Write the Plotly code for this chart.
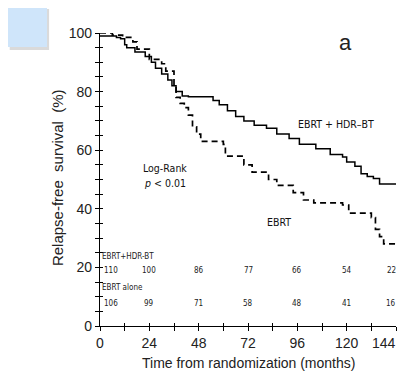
import plotly.graph_objects as go

# Kaplan-Meier curves (months, %)
combo_months = [0, 8, 10, 12, 13, 17, 22, 25, 27, 30, 33, 35, 37, 40, 43, 55, 58, 62, 66, 70, 75, 81, 86, 92, 97, 105, 112, 118, 120, 124, 127, 130, 133, 136, 144]
combo_surv = [99, 98.5, 98, 96, 95, 93.5, 92, 90, 88, 86, 84, 82, 80, 78.5, 78.2, 77, 75.5, 73.5, 71.5, 70, 68.5, 67.5, 65.5, 64, 62, 60.5, 58.5, 57.7, 56, 54.5, 52, 51, 50.3, 48.5, 48.5]

ebrt_months = [0, 6, 11, 16, 18, 24, 30, 32, 36, 37, 39, 41, 43, 45, 47, 49, 60, 61, 70, 74, 82, 86, 94, 99, 104, 118, 121, 132, 134, 136, 138, 144]
ebrt_surv = [100, 99.3, 98.5, 97, 94.5, 91, 89.5, 87, 82, 78, 76, 74.5, 72, 68, 65.5, 63, 62, 58, 55, 52.5, 50, 48, 45.5, 43, 42, 41.3, 38.5, 37, 33, 30.5, 28, 28]

# Number at risk table
risk_times = [0, 24, 48, 72, 96, 120, 144]
risk_combo = [110, 100, 86, 77, 66, 54, 22]
risk_ebrt = [106, 99, 71, 58, 48, 41, 16]

narrow = "DejaVu Sans Condensed, Liberation Sans Narrow, Arial Narrow, sans-serif"
sans = "Liberation Sans, Arial, sans-serif"

fig = go.Figure()
fig.add_trace(go.Scatter(x=combo_months, y=combo_surv, mode="lines", line_shape="hv",
                         line=dict(color="black", width=1.5), cliponaxis=False, showlegend=False))
fig.add_trace(go.Scatter(x=ebrt_months, y=ebrt_surv, mode="lines", line_shape="hv",
                         line=dict(color="black", width=1.7, dash="6px,4px"), cliponaxis=False, showlegend=False))
# empty trace so the overlay axes (inner half of crossing ticks) are drawn
fig.add_trace(go.Scatter(x=[], y=[], xaxis="x2", yaxis="y2", showlegend=False, hoverinfo="skip"))

ann = []
# risk table
ann.append(dict(x=0, y=23.8, text="EBRT+HDR-BT", xanchor="left", yanchor="middle", showarrow=False,
                font=dict(size=8, family=narrow, color="#222")))
ann.append(dict(x=0, y=13, text="EBRT alone", xanchor="left", yanchor="middle", showarrow=False,
                font=dict(size=8, family=narrow, color="#222")))
for i, (t, a, b) in enumerate(zip(risk_times, risk_combo, risk_ebrt)):
    xs = 0
    if i == 0:
        xa, xs = "left", 2
    elif i == len(risk_times) - 1:
        xa, xs = "right", 2
    else:
        xa = "center"
    ann.append(dict(x=t, y=18.8, text=str(a), xanchor=xa, yanchor="middle", showarrow=False, xshift=xs,
                    font=dict(size=8, family=narrow, color="#222")))
    ann.append(dict(x=t, y=7.8, text=str(b), xanchor=xa, yanchor="middle", showarrow=False, xshift=xs,
                    font=dict(size=8, family=narrow, color="#222")))

# last x tick label drawn separately so it stays inside the visible page
tick_text = [str(t) for t in risk_times]
ann.append(dict(x=risk_times[-1], y=0, yref="y", text=tick_text[-1], showarrow=False,
                xanchor="right", yanchor="top", xshift=2, yshift=-7,
                font=dict(size=14, family=sans, color="#222")))
tick_text[-1] = ""

ann.append(dict(x=115, y=69, text="EBRT + HDR\u2013BT", showarrow=False,
                font=dict(size=10.5, family=narrow, color="#111")))
ann.append(dict(x=87, y=35.5, text="EBRT", showarrow=False,
                font=dict(size=10.5, family=narrow, color="#111")))
ann.append(dict(x=31.5, y=54, text="Log-Rank", showarrow=False,
                font=dict(size=10.5, family=narrow, color="#111")))
ann.append(dict(x=31.5, y=48.8, text="<i>p</i> < 0.01", showarrow=False,
                font=dict(size=10.5, family=narrow, color="#111")))
ann.append(dict(x=0.828, y=0.966, xref="paper", yref="paper", text="a", showarrow=False,
                xanchor="center", yanchor="middle",
                font=dict(size=22, family=sans, color="#222")))
ann.append(dict(x=-0.145, y=0.505, xref="paper", yref="paper", text="Relapse-free  survival  (%)",
                textangle=-90, showarrow=False, xanchor="center", yanchor="middle",
                font=dict(size=15, family=sans, color="#222")))
ann.append(dict(x=0.5, y=-0.127, xref="paper", yref="paper", text="Time from randomization (months)",
                showarrow=False, xanchor="center", yanchor="middle",
                font=dict(size=14, family=sans, color="#222")))

fig.update_layout(
    width=407, height=376,
    margin=dict(l=92, r=19, t=25, b=58, autoexpand=False),
    paper_bgcolor="white", plot_bgcolor="white",
    annotations=ann,
    shapes=[
        dict(type="rect", xref="paper", yref="paper", x0=-0.305, x1=-0.172, y0=0.942, y1=1.082,
             fillcolor="rgba(150,150,150,0.35)", line=dict(width=0), layer="below"),
        dict(type="rect", xref="paper", yref="paper", x0=-0.314, x1=-0.179, y0=0.952, y1=1.092,
             fillcolor="#cfe5fa", line=dict(width=0), layer="below"),
    ],
    xaxis=dict(range=[0, 144], tickmode="array", tickvals=risk_times, ticktext=tick_text,
               automargin=False, ticklabeloverflow="allow",
               showline=True, linecolor="black", linewidth=1.2, ticks="outside", ticklen=4,
               tickcolor="black", minor=dict(dtick=12, ticks="outside", ticklen=4, tickcolor="black"),
               showgrid=False, zeroline=False,
               tickfont=dict(size=14, family=sans, color="#222")),
    yaxis=dict(range=[0, 100], dtick=20, showline=True, linecolor="black", linewidth=1.2,
               automargin=False, ticklabeloverflow="allow",
               ticks="outside", ticklen=4, tickcolor="black",
               minor=dict(dtick=5, ticks="outside", ticklen=4, tickcolor="black"),
               showgrid=False, zeroline=False,
               tickfont=dict(size=14, family=sans, color="#222")),
    xaxis2=dict(range=[0, 144], overlaying="x", anchor="y2", tickvals=risk_times, automargin=False,
                showticklabels=False, ticks="inside", ticklen=3, tickcolor="black",
                minor=dict(dtick=12, ticks="inside", ticklen=3, tickcolor="black"),
                showline=False, showgrid=False, zeroline=False),
    yaxis2=dict(range=[0, 100], overlaying="y", anchor="x2", side="left", dtick=20, automargin=False,
                showticklabels=False, ticks="inside", ticklen=3, tickcolor="black",
                minor=dict(dtick=5, ticks="inside", ticklen=3, tickcolor="black"),
                showline=False, showgrid=False, zeroline=False),
)

fig.write_html("out.html")
